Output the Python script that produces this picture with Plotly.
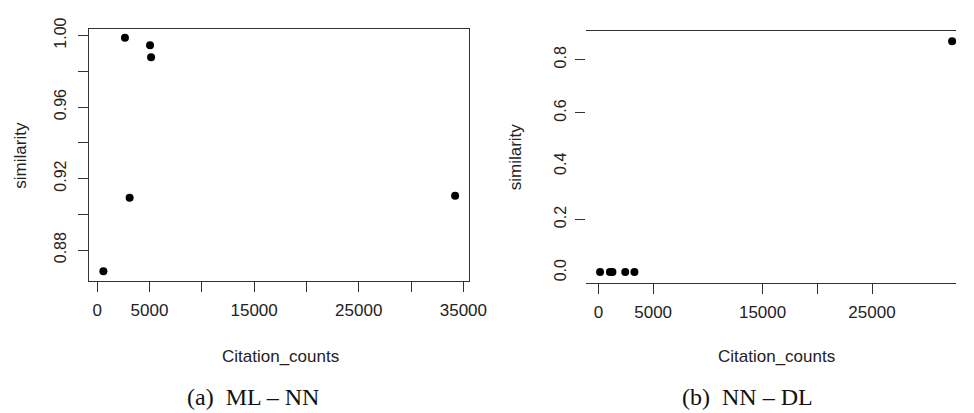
import plotly.graph_objects as go

# ---- data ----
ml_nn_citations = [590, 2650, 3100, 5050, 5150, 34210]
ml_nn_similarity = [0.8681, 0.9987, 0.9092, 0.9945, 0.9878, 0.9103]

nn_dl_citations = [150, 1050, 1280, 2450, 3290, 32320]
nn_dl_similarity = [0.002, 0.002, 0.002, 0.002, 0.002, 0.869]

left_xticks = [0, 5000, 10000, 15000, 20000, 25000, 30000, 35000]
left_xlabels = ["0", "5000", "", "15000", "", "25000", "", "35000"]
left_yticks = [0.88, 0.90, 0.92, 0.94, 0.96, 0.98, 1.00]
left_ylabels = ["0.88", "", "0.92", "", "0.96", "", "1.00"]

right_xticks = [0, 5000, 15000, 20000, 25000]
right_xlabels = ["0", "5000", "15000", "", "25000"]
right_ytick_marks = [0.2, 0.6, 0.8]
right_yticks = [0.0, 0.2, 0.4, 0.6, 0.8]
right_ylabels = ["0.0", "0.2", "0.4", "0.6", "0.8"]

W, H = 974, 413
def px(x):
    return x / W
def py(y):
    return (H - y) / H

INK = "#222222"
LINE = "#333333"
SANS = "Liberation Sans, Arial, sans-serif"
SERIF = "Liberation Serif, Times New Roman, serif"

fig = go.Figure()
fig.add_trace(go.Scatter(x=ml_nn_citations, y=ml_nn_similarity, mode="markers",
                         marker=dict(color="black", size=8), xaxis="x", yaxis="y",
                         showlegend=False))
fig.add_trace(go.Scatter(x=nn_dl_citations, y=nn_dl_similarity, mode="markers",
                         marker=dict(color="black", size=8), xaxis="x2", yaxis="y2",
                         showlegend=False))
# invisible trace to anchor the label-only overlay axis
fig.add_trace(go.Scatter(x=[None], y=[None], xaxis="x2", yaxis="y3", showlegend=False))

axis_common = dict(showgrid=False, zeroline=False, ticks="outside", ticklen=10,
                   tickwidth=1, tickcolor=LINE, linecolor=LINE, linewidth=1)

fig.update_layout(
    width=W, height=H, autosize=False, margin=dict(l=0, r=0, t=0, b=0),
    paper_bgcolor="white", plot_bgcolor="white",
    font=dict(family=SANS, color=INK),
    xaxis=dict(domain=[px(91), px(478)], range=[-755, 35555], anchor="y",
               tickvals=left_xticks, ticktext=left_xlabels, showline=True, mirror=True,
               tickfont=dict(size=17, family=SANS, color=INK), ticklabelstandoff=4,
               **axis_common),
    yaxis=dict(domain=[py(277), py(18)], range=[0.8629, 1.0039], anchor="x",
               tickvals=left_yticks, ticktext=left_ylabels, showline=True, mirror=True,
               tickangle=-90, tickfont=dict(size=16, family=SANS, color=INK),
               ticklabelstandoff=6, **axis_common),
    xaxis2=dict(domain=[px(597), 1.0], range=[-1137, 32675], anchor="y2",
                tickvals=right_xticks, ticktext=right_xlabels, showline=True, mirror=True,
                tickfont=dict(size=17, family=SANS, color=INK), ticklabelstandoff=4,
                **axis_common),
    yaxis2=dict(domain=[py(279), py(20.7)], range=[-0.0373, 0.9071], anchor="x2",
                tickvals=right_ytick_marks, showticklabels=False, showline=False,
                showgrid=False, zeroline=False, ticks="outside", ticklen=10,
                tickwidth=1, tickcolor=LINE),
    yaxis3=dict(domain=[py(279), py(20.7)], range=[-0.0373, 0.9071], anchor="x2",
                overlaying="y2", side="left", tickvals=right_yticks, ticktext=right_ylabels,
                ticks="", showline=False, showgrid=False, zeroline=False, tickangle=-90,
                tickfont=dict(size=16, family=SANS, color=INK), ticklabelstandoff=16),
)

annotations = [
    dict(text="similarity", x=px(20), y=py(148), textangle=-90,
         font=dict(size=17, family=SANS, color=INK)),
    dict(text="similarity", x=px(525), y=py(150), textangle=-90,
         font=dict(size=17, family=SANS, color=INK)),
    dict(text="Citation_counts", x=px(285.5), y=py(355),
         font=dict(size=17, family=SANS, color=INK)),
    dict(text="Citation_counts", x=px(791), y=py(355),
         font=dict(size=17, family=SANS, color=INK)),
    dict(text="(a)\u00a0\u00a0ML – NN", x=px(258), y=py(397),
         font=dict(size=24, family=SERIF, color="#111111")),
    dict(text="(b)\u00a0\u00a0NN – DL", x=px(762), y=py(397),
         font=dict(size=24, family=SERIF, color="#111111")),
]
for a in annotations:
    a.update(xref="paper", yref="paper", showarrow=False, xanchor="center", yanchor="middle")
fig.update_layout(annotations=annotations)

fig.write_html(
    "out.html",
    post_script=(
        "document.documentElement.style.margin='0';document.documentElement.style.overflow='hidden';"
        "document.body.style.margin='0';document.body.style.padding='0';document.body.style.overflow='hidden';"
    ),
)
